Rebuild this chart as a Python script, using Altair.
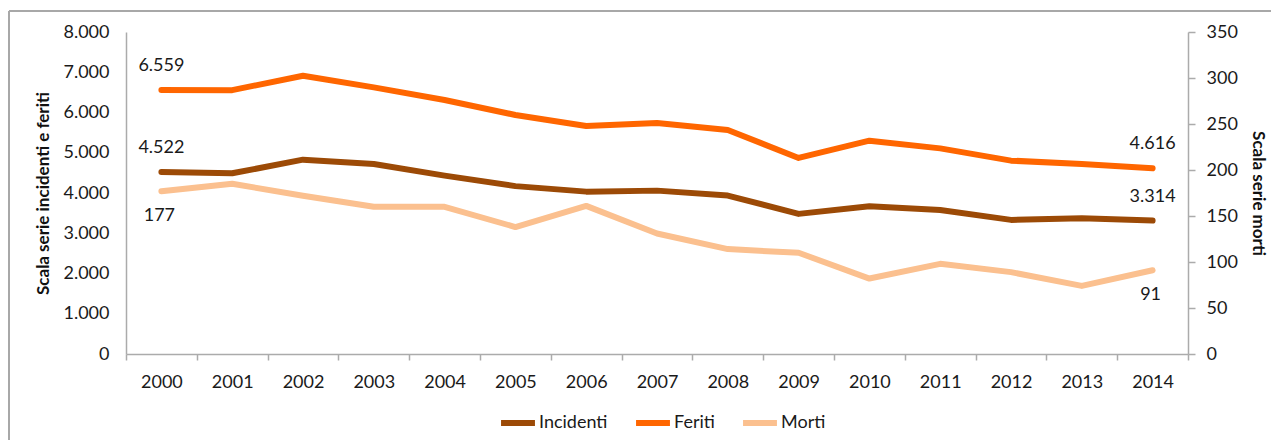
import altair as alt
import pandas as pd

years = [str(y) for y in range(2000, 2015)]
incidenti = [4522, 4489, 4829, 4722, 4431, 4171, 4034, 4059, 3935, 3481, 3669, 3580, 3332, 3371, 3314]
feriti = [6559, 6555, 6914, 6624, 6311, 5938, 5665, 5740, 5566, 4871, 5300, 5109, 4804, 4722, 4616]
morti = [177, 185, 172, 160, 160, 138, 161, 131, 114, 110, 82, 98, 89, 74, 91]
series = ["Incidenti", "Feriti", "Morti"]
colors = ["#9C4A06", "#FF6600", "#FBC08F"]
left_ticks = [0, 1000, 2000, 3000, 4000, 5000, 6000, 7000, 8000]
right_ticks = [0, 50, 100, 150, 200, 250, 300, 350]

FONT = "Lato"
GRAY = "#ababab"
TXT = "#1a1a1a"
FS = 18
TFS = 17

rows = []
for i, y in enumerate(years):
    rows.append({"anno": y, "serie": "Incidenti", "valore": incidenti[i]})
    rows.append({"anno": y, "serie": "Feriti", "valore": feriti[i]})
    rows.append({"anno": y, "serie": "Morti", "valore": morti[i]})
df = pd.DataFrame(rows)
endpoints = [years[0], years[-1]]

x_enc = alt.X(
    "anno:O",
    sort=years,
    scale=alt.Scale(type="band", paddingInner=0, paddingOuter=0),
    axis=alt.Axis(
        title=None, labelAngle=0, tickBand="extent", tickSize=6,
        tickColor=GRAY, domainColor=GRAY, domainWidth=1.5, tickWidth=1.5,
        labelPadding=13, labelFontSize=FS, labelFont=FONT, labelColor=TXT,
    ),
)

color_enc = alt.Color(
    "serie:N",
    scale=alt.Scale(domain=series, range=colors),
    sort=series,
    legend=alt.Legend(
        title=None, orient="none", direction="horizontal",
        legendX=372, legendY=371,
        symbolType="stroke", symbolSize=1150, symbolStrokeWidth=6,
        labelFontSize=FS, labelFont=FONT, labelColor=TXT,
        columnPadding=16, labelOffset=1,
    ),
)

left_axis = alt.Axis(
    orient="left", values=left_ticks, grid=False, ticks=False,
    labelExpr="replace(format(datum.value, ','), ',', '.')",
    domainColor=GRAY, domainWidth=1.5, labelPadding=17,
    labelFontSize=FS, labelFont=FONT, labelColor=TXT,
    title="Scala serie incidenti e feriti", titleFont=FONT, titleFontSize=TFS,
    titleFontWeight="bold", titleColor="#111111", titlePadding=10,
)
right_axis = alt.Axis(
    orient="right", values=right_ticks, grid=False, ticks=True, tickSize=7,
    tickColor=GRAY, tickWidth=1.5, domainColor=GRAY, domainWidth=1.5, labelPadding=11,
    labelFontSize=FS, labelFont=FONT, labelColor=TXT,
    title="Scala serie morti", titleFont=FONT, titleFontSize=TFS,
    titleFontWeight="bold", titleColor="#111111", titleAngle=90, titlePadding=11,
)

base = alt.Chart(df)

left_lines = base.transform_filter(
    alt.FieldOneOfPredicate(field="serie", oneOf=["Incidenti", "Feriti"])
).mark_line(strokeWidth=6, strokeCap="round", strokeJoin="round").encode(
    x=x_enc,
    y=alt.Y("valore:Q", scale=alt.Scale(domain=[0, 8000]), axis=left_axis),
    color=color_enc,
)
left_text = base.transform_filter(
    alt.FieldOneOfPredicate(field="serie", oneOf=["Incidenti", "Feriti"])
).transform_filter(
    alt.FieldOneOfPredicate(field="anno", oneOf=endpoints)
).transform_calculate(
    lab="replace(format(datum.valore, ','), ',', '.')"
).mark_text(dy=-24, fontSize=FS, font=FONT, color=TXT).encode(
    x=x_enc,
    y=alt.Y("valore:Q", scale=alt.Scale(domain=[0, 8000]), axis=left_axis),
    text="lab:N",
)
left = alt.layer(left_lines, left_text)

right_line = base.transform_filter(
    alt.FieldEqualPredicate(field="serie", equal="Morti")
).mark_line(strokeWidth=6, strokeCap="round", strokeJoin="round").encode(
    x=x_enc,
    y=alt.Y("valore:Q", scale=alt.Scale(domain=[0, 350]), axis=right_axis),
    color=color_enc,
)
right_text = base.transform_filter(
    alt.FieldEqualPredicate(field="serie", equal="Morti")
).transform_filter(
    alt.FieldOneOfPredicate(field="anno", oneOf=endpoints)
).mark_text(dy=25, dx=-2, fontSize=FS, font=FONT, color=TXT).encode(
    x=x_enc,
    y=alt.Y("valore:Q", scale=alt.Scale(domain=[0, 350]), axis=right_axis),
    text="valore:Q",
)
right = alt.layer(right_line, right_text)

frame_df = pd.DataFrame({"f": [0]})
frame_top = alt.Chart(frame_df).mark_rule(color="#a8a8a8", strokeWidth=2).encode(
    x=alt.value(-117), x2=alt.value(1300), y=alt.value(-21)
)
frame_left = alt.Chart(frame_df).mark_rule(color="#a8a8a8", strokeWidth=2).encode(
    x=alt.value(-117), y=alt.value(-21), y2=alt.value(500)
)

chart = alt.layer(left, right, frame_top, frame_left).resolve_scale(
    y="independent"
).properties(
    width=1062, height=322,
    autosize=alt.AutoSizeParams(type="none"),
    padding={"left": 118, "top": 24, "right": 83, "bottom": 86},
).configure_view(stroke="transparent")

chart.save("out.html", embed_options={"renderer": "svg", "actions": False})
